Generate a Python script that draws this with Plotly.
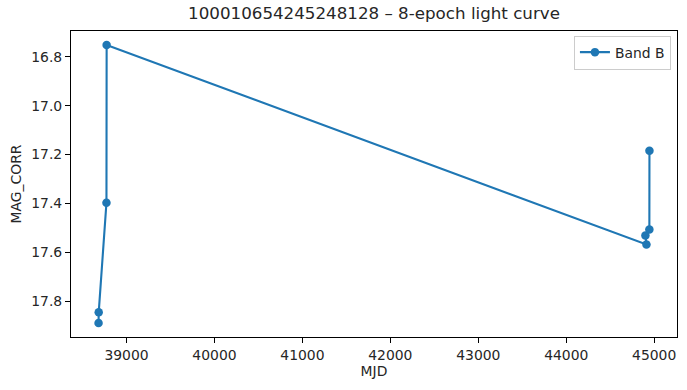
import plotly.graph_objects as go

# Data
mjd = [38682, 38684, 38772, 38774, 44912, 44900, 44945, 44946]
mag = [17.890, 17.846, 17.397, 16.751, 17.568, 17.531, 17.507, 17.184]
band_label = "Band B"
title_text = "100010654245248128 \u2013 8-epoch light curve"

def padded(vals, frac=0.05):
    lo, hi = min(vals), max(vals)
    p = (hi - lo) * frac
    return lo - p, hi + p

xlo, xhi = padded(mjd)
ylo, yhi = padded(mag)

FONT = "DejaVu Sans"
fig = go.Figure()
fig.add_trace(go.Scatter(
    x=mjd, y=mag, mode="lines+markers", name=band_label,
    line=dict(color="#1f77b4", width=2.1),
    marker=dict(color="#1f77b4", size=8.5),
    showlegend=True,
))

axis_common = dict(
    showline=True, linecolor="black", linewidth=1.1, mirror=True,
    ticks="outside", ticklen=5, tickwidth=1.1, tickcolor="black",
    showgrid=False, zeroline=False,
    tickfont=dict(family=FONT, size=13.9, color="#262626"),
    title_font=dict(family=FONT, size=13.9, color="#262626"),
)

fig.update_layout(
    width=687, height=390,
    margin=dict(l=71, r=10, t=31, b=53),
    paper_bgcolor="white", plot_bgcolor="white",
    font=dict(family=FONT, color="#262626"),
    title=dict(text=title_text, x=0.5, xref="paper", xanchor="center",
               y=1, yref="container", yanchor="top", pad=dict(t=7),
               font=dict(family=FONT, size=16.7, color="#262626")),
    xaxis=dict(range=[xlo, xhi], tickvals=[39000, 40000, 41000, 42000, 43000, 44000, 45000],
               tickformat="d", title=dict(text="MJD", standoff=4), **axis_common),
    yaxis=dict(range=[yhi, ylo], tickvals=[16.8, 17.0, 17.2, 17.4, 17.6, 17.8],
               tickformat=".1f", title=dict(text="MAG_CORR", standoff=6), **axis_common),
    legend=dict(x=0.99, y=0.985, xanchor="right", yanchor="top",
                bordercolor="#cccccc", borderwidth=1, bgcolor="rgba(255,255,255,0.8)",
                font=dict(family=FONT, size=13.9, color="#262626")),
)

fig.write_html("out.html")
